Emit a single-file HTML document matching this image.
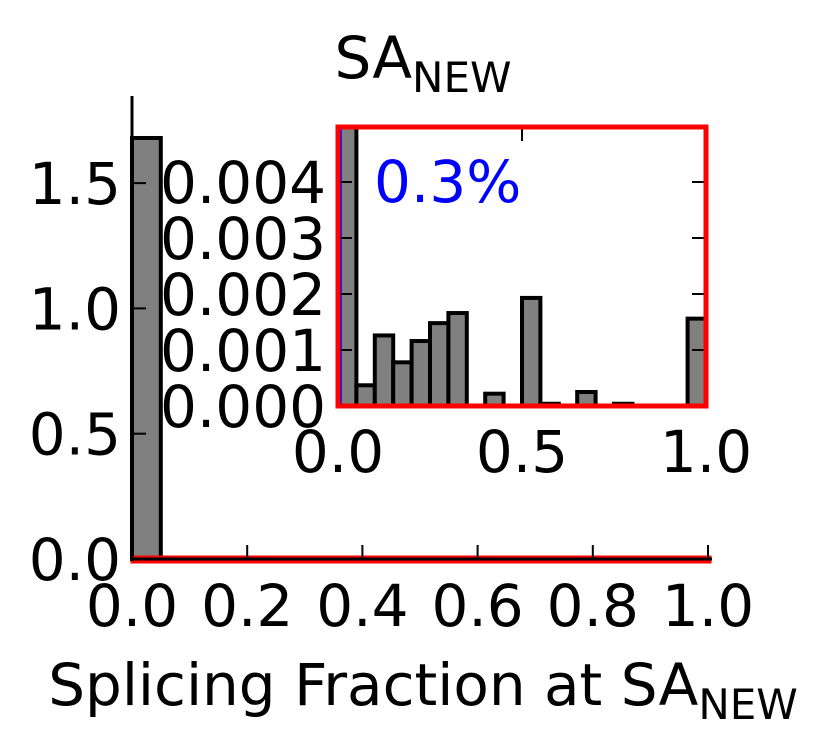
<!DOCTYPE html>
<html><head><meta charset="utf-8"><style>
html,body{margin:0;padding:0;background:#fff;}
svg{display:block;font-family:"DejaVu Sans","Liberation Sans",sans-serif;}
</style></head><body>
<svg id="chart" width="829" height="753">
<g id="main"></g>
<g id="inset"></g>
</svg>
<script>
// main histogram data
const mainBinStarts = [0.0];
const mainValues = [1.68];
const mainYTicks = [0.0, 0.5, 1.0, 1.5];
const mainYTickLabels = ["0.0", "0.5", "1.0", "1.5"];
const mainXTicks = [0.0, 0.2, 0.4, 0.6, 0.8, 1.0];
const mainXTickLabels = ["0.0", "0.2", "0.4", "0.6", "0.8", "1.0"];
// inset histogram data (bins of width 0.05)
const insetBinStarts = [0,0.05,0.1,0.15,0.2,0.25,0.3,0.35,0.4,0.45,0.5,0.55,0.6,0.65,0.7,0.75,0.8,0.85,0.9,0.95];
const insetValues = [0.08,0.00037,0.00126,0.00078,0.00116,0.00148,0.00166,0,0.00022,0,0.00193,0.00004,0,0.00025,0,0.00004,0,0,0,0.00156];
const insetYTicks = [0.000,0.001,0.002,0.003,0.004];
const insetYTickLabels = ["0.000","0.001","0.002","0.003","0.004"];
const insetXTicks = [0.0,0.5,1.0];
const insetXTickLabels = ["0.0","0.5","1.0"];
const binWidth = 0.05;

const NS="http://www.w3.org/2000/svg";
function mk(parent,tag,attrs){const e=document.createElementNS(NS,tag);for(const k in attrs)e.setAttribute(k,attrs[k]);parent.appendChild(e);return e;}
const svg=document.getElementById('chart');
const gm=document.getElementById('main');
const gi=document.getElementById('inset');
const FS=58;

// main axes
const mx=v=>132+v*576, my=v=>559-v*250.6;
mainBinStarts.forEach((b,i)=>{
  const r=mk(gm,'rect',{x:mx(b),y:my(mainValues[i]),width:mx(b+binWidth)-mx(b),height:my(0)-my(mainValues[i]),fill:'#808080',stroke:'#000','stroke-width':4});
  
  
});
const zr=mk(gm,'rect',{x:mx(0),y:my(0)-2,width:mx(1)-mx(0)+2,height:5,fill:'none',stroke:'#f00','stroke-width':3});


const ls=mk(gm,'line',{x1:mx(0),y1:96,x2:mx(0),y2:my(0)+2,stroke:'#000','stroke-width':3});


const bs=mk(gm,'line',{x1:mx(0)-1,y1:my(0),x2:mx(1)+4,y2:my(0),stroke:'#000','stroke-width':3});


mainYTicks.forEach((v,i)=>{
  mk(gm,'line',{x1:mx(0),y1:my(v),x2:mx(0)+14,y2:my(v),stroke:'#000','stroke-width':2});
  const t=mk(gm,'text',{x:121,y:my(v)+21,'text-anchor':'end','font-size':FS});
  t.textContent=mainYTickLabels[i];
  
  
});
mainXTicks.forEach((v,i)=>{
  mk(gm,'line',{x1:mx(v),y1:my(0),x2:mx(v),y2:my(0)-14,stroke:'#000','stroke-width':2});
  const t=mk(gm,'text',{x:mx(v),y:626,'text-anchor':'middle','font-size':FS});
  t.textContent=mainXTickLabels[i];
  
  
});
const title=mk(svg,'text',{x:423,y:78,'text-anchor':'middle','font-size':FS});
title.innerHTML='SA<tspan font-size="42" dy="14">NEW</tspan>';


const xl=mk(svg,'text',{x:423,y:705,'text-anchor':'middle','font-size':FS});
xl.innerHTML='Splicing Fraction at SA<tspan font-size="42" dy="14">NEW</tspan>';



// inset
const ix=v=>338+v*368, iy=v=>406-v*56000;
mk(svg,'clipPath',{id:'ic'}).appendChild(document.createElementNS(NS,'rect'));
const cr=document.querySelector('#ic rect');cr.setAttribute('x',338);cr.setAttribute('y',127);cr.setAttribute('width',368);cr.setAttribute('height',279);
mk(gi,'rect',{x:338,y:127,width:368,height:279,fill:'#fff'});
const ib=mk(gi,'g',{'clip-path':'url(#ic)'});
insetBinStarts.forEach((b,i)=>{
  if(insetValues[i]<=0)return;
  const r=mk(ib,'rect',{x:ix(b),y:iy(insetValues[i]),width:ix(b+binWidth)-ix(b),height:iy(0)-iy(insetValues[i]),fill:'#808080',stroke:'#000','stroke-width':4});
  
  
});
mk(ib,'line',{x1:341,y1:127,x2:341,y2:406,stroke:'#00f','stroke-width':1.5});
insetYTicks.forEach((v,i)=>{
  if(i>0){
    mk(gi,'line',{x1:ix(0),y1:iy(v),x2:ix(0)+14,y2:iy(v),stroke:'#000','stroke-width':2});
    mk(gi,'line',{x1:ix(1),y1:iy(v),x2:ix(1)-14,y2:iy(v),stroke:'#000','stroke-width':2});
  }
  const t=mk(gi,'text',{x:326,y:iy(v)+21,'text-anchor':'end','font-size':FS});
  t.textContent=insetYTickLabels[i];
  
  
});
insetXTicks.forEach((v,i)=>{
  mk(gi,'line',{x1:ix(v),y1:127,x2:ix(v),y2:141,stroke:'#000','stroke-width':2});
  const t=mk(gi,'text',{x:ix(v),y:472,'text-anchor':'middle','font-size':FS});
  t.textContent=insetXTickLabels[i];
  
  
});
const fr=mk(gi,'rect',{x:338,y:127,width:368,height:279,fill:'none',stroke:'#f00','stroke-width':5});


const pct=mk(gi,'text',{x:374,y:202,'font-size':FS,fill:'#00f'});
pct.textContent='0.3%';


</script>
</body></html>
